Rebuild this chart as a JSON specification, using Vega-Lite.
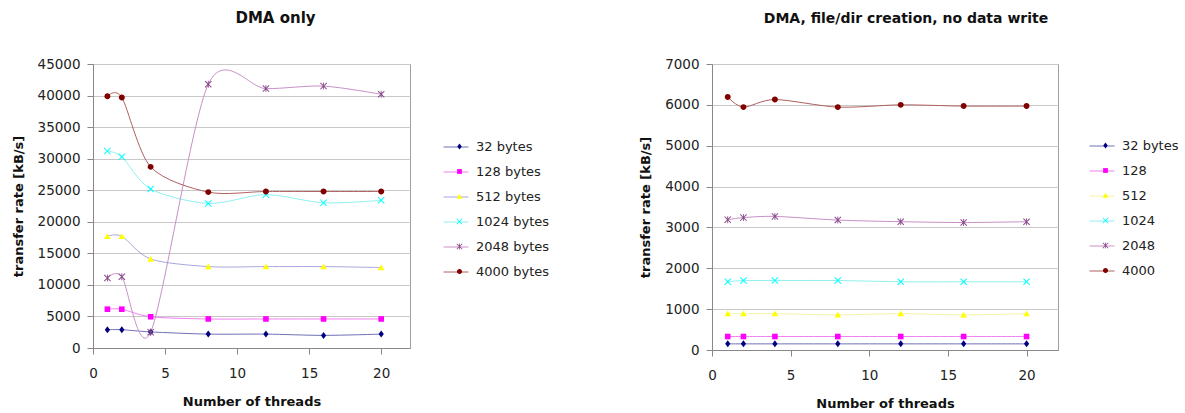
{
  "$schema": "https://vega.github.io/schema/vega-lite/v6.json",
  "padding": {"left": 11, "top": 10, "right": 0, "bottom": 0},
  "background": "white",
  "config": {
    "font": "DejaVu Sans",
    "view": {"stroke": "#a0a0a0", "strokeWidth": 1},
    "axis": {
      "domainColor": "#888888", "tickColor": "#888888", "gridColor": "#c8c8c8",
      "labelFont": "DejaVu Sans", "labelFontSize": 13.5, "labelColor": "#222222",
      "titleFont": "DejaVu Sans", "titleFontSize": 13, "titleFontWeight": "bold", "titleColor": "#111111",
      "tickSize": 6
    },
    "title": {"font": "DejaVu Sans", "fontSize": 14, "fontWeight": "bold", "color": "#111111", "anchor": "middle"},
    "legend": {"labelFont": "DejaVu Sans", "labelFontSize": 13, "labelColor": "#222222", "title": null, "orient": "none", "padding": 0}
  },
  "datasets": {
    "dma": [
      {"threads": 1, "size": "32 bytes", "rate": 2900}, {"threads": 2, "size": "32 bytes", "rate": 2900}, {"threads": 4, "size": "32 bytes", "rate": 2550}, {"threads": 8, "size": "32 bytes", "rate": 2200}, {"threads": 12, "size": "32 bytes", "rate": 2200}, {"threads": 16, "size": "32 bytes", "rate": 2000}, {"threads": 20, "size": "32 bytes", "rate": 2200},
      {"threads": 1, "size": "128 bytes", "rate": 6150}, {"threads": 2, "size": "128 bytes", "rate": 6150}, {"threads": 4, "size": "128 bytes", "rate": 4950}, {"threads": 8, "size": "128 bytes", "rate": 4600}, {"threads": 12, "size": "128 bytes", "rate": 4600}, {"threads": 16, "size": "128 bytes", "rate": 4600}, {"threads": 20, "size": "128 bytes", "rate": 4600},
      {"threads": 1, "size": "512 bytes", "rate": 17700}, {"threads": 2, "size": "512 bytes", "rate": 17700}, {"threads": 4, "size": "512 bytes", "rate": 14100}, {"threads": 8, "size": "512 bytes", "rate": 12900}, {"threads": 12, "size": "512 bytes", "rate": 12900}, {"threads": 16, "size": "512 bytes", "rate": 12900}, {"threads": 20, "size": "512 bytes", "rate": 12750},
      {"threads": 1, "size": "1024 bytes", "rate": 31200}, {"threads": 2, "size": "1024 bytes", "rate": 30300}, {"threads": 4, "size": "1024 bytes", "rate": 25200}, {"threads": 8, "size": "1024 bytes", "rate": 22900}, {"threads": 12, "size": "1024 bytes", "rate": 24300}, {"threads": 16, "size": "1024 bytes", "rate": 23000}, {"threads": 20, "size": "1024 bytes", "rate": 23400},
      {"threads": 1, "size": "2048 bytes", "rate": 11100}, {"threads": 2, "size": "2048 bytes", "rate": 11300}, {"threads": 4, "size": "2048 bytes", "rate": 2500}, {"threads": 8, "size": "2048 bytes", "rate": 41800}, {"threads": 12, "size": "2048 bytes", "rate": 41100}, {"threads": 16, "size": "2048 bytes", "rate": 41500}, {"threads": 20, "size": "2048 bytes", "rate": 40200},
      {"threads": 1, "size": "4000 bytes", "rate": 39900}, {"threads": 2, "size": "4000 bytes", "rate": 39700}, {"threads": 4, "size": "4000 bytes", "rate": 28700}, {"threads": 8, "size": "4000 bytes", "rate": 24700}, {"threads": 12, "size": "4000 bytes", "rate": 24800}, {"threads": 16, "size": "4000 bytes", "rate": 24800}, {"threads": 20, "size": "4000 bytes", "rate": 24800}
    ],
    "create": [
      {"threads": 1, "size": "32 bytes", "rate": 150}, {"threads": 2, "size": "32 bytes", "rate": 150}, {"threads": 4, "size": "32 bytes", "rate": 150}, {"threads": 8, "size": "32 bytes", "rate": 150}, {"threads": 12, "size": "32 bytes", "rate": 150}, {"threads": 16, "size": "32 bytes", "rate": 150}, {"threads": 20, "size": "32 bytes", "rate": 150},
      {"threads": 1, "size": "128", "rate": 330}, {"threads": 2, "size": "128", "rate": 330}, {"threads": 4, "size": "128", "rate": 330}, {"threads": 8, "size": "128", "rate": 330}, {"threads": 12, "size": "128", "rate": 330}, {"threads": 16, "size": "128", "rate": 330}, {"threads": 20, "size": "128", "rate": 330},
      {"threads": 1, "size": "512", "rate": 890}, {"threads": 2, "size": "512", "rate": 890}, {"threads": 4, "size": "512", "rate": 890}, {"threads": 8, "size": "512", "rate": 860}, {"threads": 12, "size": "512", "rate": 890}, {"threads": 16, "size": "512", "rate": 860}, {"threads": 20, "size": "512", "rate": 890},
      {"threads": 1, "size": "1024", "rate": 1670}, {"threads": 2, "size": "1024", "rate": 1700}, {"threads": 4, "size": "1024", "rate": 1700}, {"threads": 8, "size": "1024", "rate": 1700}, {"threads": 12, "size": "1024", "rate": 1670}, {"threads": 16, "size": "1024", "rate": 1670}, {"threads": 20, "size": "1024", "rate": 1670},
      {"threads": 1, "size": "2048", "rate": 3190}, {"threads": 2, "size": "2048", "rate": 3240}, {"threads": 4, "size": "2048", "rate": 3270}, {"threads": 8, "size": "2048", "rate": 3180}, {"threads": 12, "size": "2048", "rate": 3140}, {"threads": 16, "size": "2048", "rate": 3120}, {"threads": 20, "size": "2048", "rate": 3140},
      {"threads": 1, "size": "4000", "rate": 6190}, {"threads": 2, "size": "4000", "rate": 5945}, {"threads": 4, "size": "4000", "rate": 6130}, {"threads": 8, "size": "4000", "rate": 5945}, {"threads": 12, "size": "4000", "rate": 6000}, {"threads": 16, "size": "4000", "rate": 5970}, {"threads": 20, "size": "4000", "rate": 5970}
    ]
  },
  "spacing": 88,
  "resolve": {
    "scale": {"color": "independent", "shape": "independent", "stroke": "independent", "x": "independent", "y": "independent"},
    "legend": {"color": "independent", "shape": "independent", "stroke": "independent"}
  },
  "hconcat": [
    {
      "title": {"text": "DMA only", "dx": 24, "offset": 31, "fontSize": 15},
      "width": 317,
      "height": 284,
      "data": {"name": "dma"},
      "encoding": {
        "x": {"field": "threads", "type": "quantitative", "scale": {"domain": [0, 22], "nice": false},
              "axis": {"values": [0, 5, 10, 15, 20], "grid": false, "title": "Number of threads", "labelPadding": 12, "titlePadding": 16, "labelFlush": false}},
        "y": {"field": "rate", "type": "quantitative", "scale": {"domain": [0, 45000], "nice": false},
              "axis": {"values": [0, 5000, 10000, 15000, 20000, 25000, 30000, 35000, 40000, 45000], "format": "d", "title": "transfer rate [kB/s]", "labelPadding": 7, "titlePadding": 12, "grid": true}}
      },
      "layer": [
        {
          "mark": {"type": "line", "interpolate": "cardinal", "tension": 0.15, "strokeWidth": 1},
          "encoding": {
            "stroke": {"field": "size", "type": "nominal",
                       "scale": {"domain": ["4000 bytes", "2048 bytes", "1024 bytes", "512 bytes", "128 bytes", "32 bytes"],
                                 "range": ["#b06060", "#c890c8", "#90f0f0", "#a8a8e0", "#f080f0", "#7070b8"]},
                       "legend": {"values": ["32 bytes", "128 bytes", "512 bytes", "1024 bytes", "2048 bytes", "4000 bytes"], "symbolType": "stroke", "symbolSize": 625, "symbolStrokeWidth": 1, "labelExpr": "' '", "labelOffset": 0, "rowPadding": 5, "legendX": 350, "legendY": 70}}
          }
        },
        {
          "mark": {"type": "point", "filled": true, "size": 49, "opacity": 1},
          "encoding": {
            "color": {"field": "size", "type": "nominal",
                      "scale": {"domain": ["32 bytes", "128 bytes", "512 bytes", "1024 bytes", "2048 bytes", "4000 bytes"],
                                "range": ["#000080", "#ff00ff", "#ffff00", "#00ffff", "#8a4a8a", "#800000"]},
                      "legend": {"legendX": 360, "legendY": 76, "labelOffset": 10, "rowPadding": 11, "symbolSize": 36, "symbolStrokeWidth": 0}},
            "shape": {"field": "size", "type": "nominal",
                      "scale": {"domain": ["32 bytes", "128 bytes", "512 bytes", "1024 bytes", "2048 bytes", "4000 bytes"],
                                "range": ["M0,-1L0.75,0L0,1L-0.75,0Z", "M-0.8,-0.8L0.8,-0.8L0.8,0.8L-0.8,0.8Z", "M0,-0.9L0.95,0.75L-0.95,0.75Z", "M-1,-0.8L-0.8,-1L0,-0.2L0.8,-1L1,-0.8L0.2,0L1,0.8L0.8,1L0,0.2L-0.8,1L-1,0.8L-0.2,0Z", "M-1,-0.8L-0.8,-1L0,-0.2L0.8,-1L1,-0.8L0.2,0L1,0.8L0.8,1L0,0.2L-0.8,1L-1,0.8L-0.2,0ZM-0.12,-1L0.12,-1L0.12,1L-0.12,1Z", "M-0.85,0A0.85,0.85,0,1,1,0.85,0A0.85,0.85,0,1,1,-0.85,0Z"]}}
          }
        }
      ]
    },
    {
      "title": {"text": "DMA, file/dir creation, no data write", "dx": 21, "offset": 31},
      "width": 346,
      "height": 286,
      "data": {"name": "create"},
      "encoding": {
        "x": {"field": "threads", "type": "quantitative", "scale": {"domain": [0, 22], "nice": false},
              "axis": {"values": [0, 5, 10, 15, 20], "grid": false, "title": "Number of threads", "labelPadding": 12, "titlePadding": 16, "labelFlush": false}},
        "y": {"field": "rate", "type": "quantitative", "scale": {"domain": [0, 7000], "nice": false},
              "axis": {"values": [0, 1000, 2000, 3000, 4000, 5000, 6000, 7000], "format": "d", "title": "transfer rate [kB/s]", "labelPadding": 7, "titlePadding": 12, "grid": true}}
      },
      "layer": [
        {
          "mark": {"type": "line", "interpolate": "cardinal", "tension": 0.15, "strokeWidth": 1},
          "encoding": {
            "stroke": {"field": "size", "type": "nominal",
                       "scale": {"domain": ["4000", "2048", "1024", "512", "128", "32 bytes"],
                                 "range": ["#b06060", "#c890c8", "#90f0f0", "#f4f4a8", "#f080f0", "#7070b8"]},
                       "legend": {"values": ["32 bytes", "128", "512", "1024", "2048", "4000"], "symbolType": "stroke", "symbolSize": 625, "symbolStrokeWidth": 1, "labelExpr": "' '", "labelOffset": 0, "rowPadding": 5, "legendX": 377, "legendY": 69}}
          }
        },
        {
          "mark": {"type": "point", "filled": true, "size": 49, "opacity": 1},
          "encoding": {
            "color": {"field": "size", "type": "nominal",
                      "scale": {"domain": ["32 bytes", "128", "512", "1024", "2048", "4000"],
                                "range": ["#000080", "#ff00ff", "#ffff00", "#00ffff", "#8a4a8a", "#800000"]},
                      "legend": {"legendX": 387, "legendY": 75, "labelOffset": 10, "rowPadding": 11, "symbolSize": 36, "symbolStrokeWidth": 0}},
            "shape": {"field": "size", "type": "nominal",
                      "scale": {"domain": ["32 bytes", "128", "512", "1024", "2048", "4000"],
                                "range": ["M0,-1L0.75,0L0,1L-0.75,0Z", "M-0.8,-0.8L0.8,-0.8L0.8,0.8L-0.8,0.8Z", "M0,-0.9L0.95,0.75L-0.95,0.75Z", "M-1,-0.8L-0.8,-1L0,-0.2L0.8,-1L1,-0.8L0.2,0L1,0.8L0.8,1L0,0.2L-0.8,1L-1,0.8L-0.2,0Z", "M-1,-0.8L-0.8,-1L0,-0.2L0.8,-1L1,-0.8L0.2,0L1,0.8L0.8,1L0,0.2L-0.8,1L-1,0.8L-0.2,0ZM-0.12,-1L0.12,-1L0.12,1L-0.12,1Z", "M-0.85,0A0.85,0.85,0,1,1,0.85,0A0.85,0.85,0,1,1,-0.85,0Z"]}}
          }
        }
      ]
    }
  ]
}
